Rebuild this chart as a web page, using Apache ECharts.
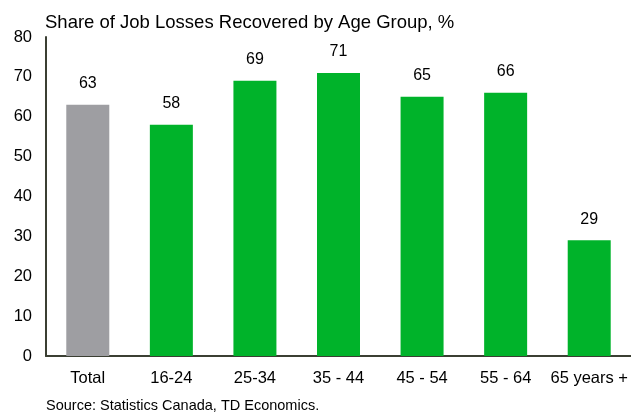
<!DOCTYPE html>
<html>
<head>
<meta charset="utf-8">
<script src="https://cdn.jsdelivr.net/npm/echarts@6/dist/echarts.min.js"></script>
<style>
html,body{margin:0;padding:0;background:#fff;}
#chart{width:631px;height:414px;}
</style>
</head>
<body>
<div id="chart"></div>
<script>
// Age groups and share of job losses recovered (%)
const categories = ['Total', '16-24', '25-34', '35 - 44', '45 - 54', '55 - 64', '65 years +'];
const values = [63, 58, 69, 71, 65, 66, 29];
const yTicks = [0, 10, 20, 30, 40, 50, 60, 70, 80];

const FONT = 'Liberation Sans, Arial, sans-serif';
const chart = echarts.init(document.getElementById('chart'), null, {renderer: 'canvas'});

chart.setOption({
  animation: false,
  backgroundColor: '#ffffff',
  title: [{
    text: 'Share of Job Losses Recovered by Age Group, %',
    left: 40, top: 8,
    textStyle: {fontFamily: FONT, fontSize: 18.5, fontWeight: 'normal', color: '#000'}
  }, {
    text: 'Source: Statistics Canada, TD Economics.',
    left: 41, top: 393,
    textStyle: {fontFamily: FONT, fontSize: 14.5, fontWeight: 'normal', color: '#000'}
  }],
  grid: {left: 46, right: 0, top: 37, bottom: 58, containLabel: false},
  xAxis: {
    type: 'category',
    data: categories,
    axisLine: {lineStyle: {color: '#3b3f33', width: 2}},
    axisTick: {show: false},
    axisLabel: {fontFamily: FONT, fontSize: 16.5, color: '#000', margin: 14, interval: 0}
  },
  yAxis: {
    type: 'value',
    min: yTicks[0], max: yTicks[yTicks.length - 1], interval: 10,
    axisLine: {show: true, lineStyle: {color: '#3b3f33', width: 2}},
    axisTick: {show: false},
    splitLine: {show: false},
    axisLabel: {fontFamily: FONT, fontSize: 16.5, color: '#000', margin: 14}
  },
  series: [{
    type: 'bar',
    barWidth: 43,
    data: values.map((v, i) => ({
      value: v,
      itemStyle: {color: i === 0 ? '#9e9ea2' : '#00b32a'}
    })),
    label: {
      show: true, position: 'top', distance: 13,
      fontFamily: FONT, fontSize: 16, color: '#000'
    }
  }]
});
</script>
</body>
</html>
